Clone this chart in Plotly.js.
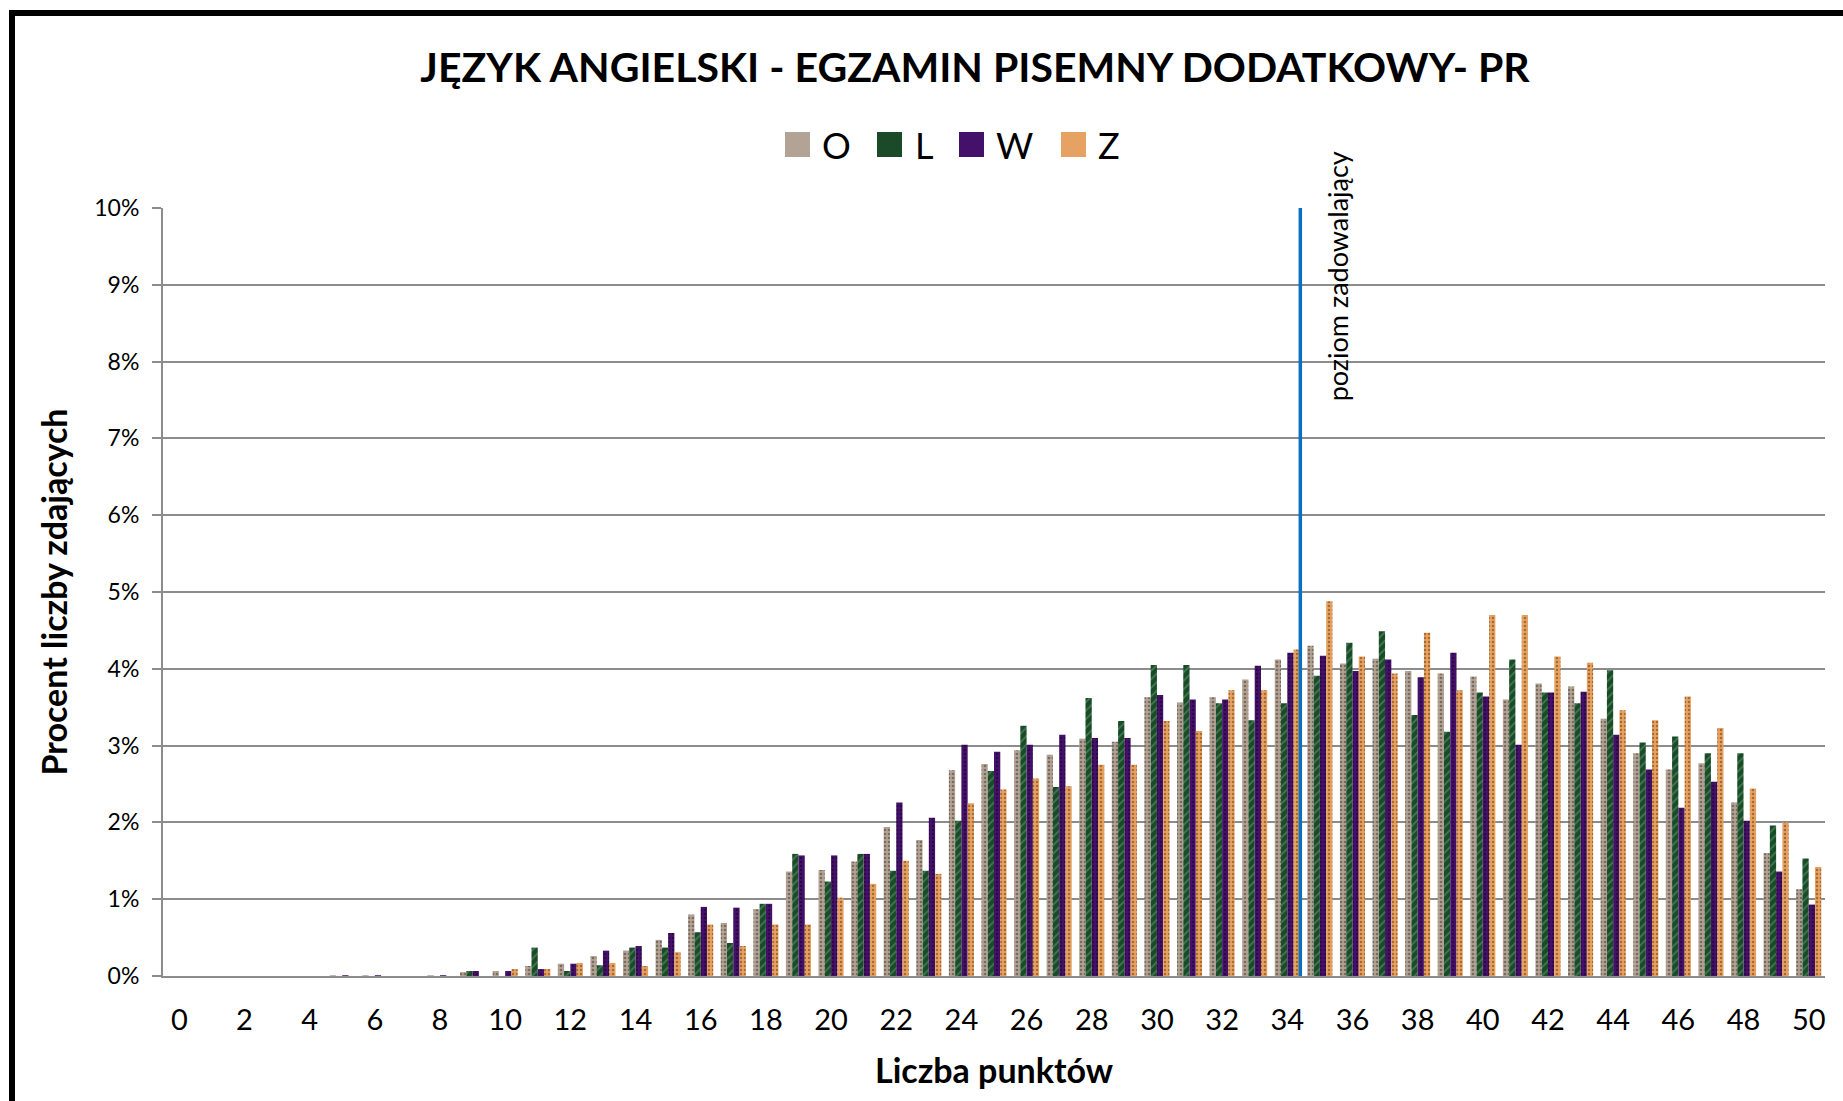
<!DOCTYPE html>
<html><head><meta charset="utf-8">
<script src="https://cdn.plot.ly/plotly-3.0.1.min.js"></script>
<style>html,body{margin:0;padding:0;background:#fff}#chart{width:1843px;height:1101px}</style>
</head><body><div id="chart"></div>
<script>
// ---------- data ----------
const categories = [0,1,2,3,4,5,6,7,8,9,10,11,12,13,14,15,16,17,18,19,20,21,22,23,24,25,26,27,28,29,30,31,32,33,34,35,36,37,38,39,40,41,42,43,44,45,46,47,48,49,50];
const seriesNames = ['O', 'L', 'W', 'Z'];
const valuesO = [0,0,0,0,0,0.01,0.01,0,0.01,0.05,0.065,0.13,0.16,0.26,0.33,0.47,0.80,0.69,0.87,1.36,1.38,1.49,1.94,1.77,2.68,2.76,2.94,2.88,3.09,3.05,3.63,3.56,3.63,3.86,4.12,4.30,4.07,4.13,3.97,3.94,3.90,3.60,3.81,3.77,3.35,2.90,2.69,2.77,2.26,1.60,1.13];
const valuesL = [0,0,0,0,0,0,0,0,0,0.065,0,0.37,0.065,0.14,0.37,0.37,0.57,0.43,0.94,1.59,1.23,1.59,1.37,1.37,2.02,2.67,3.26,2.46,3.62,3.32,4.05,4.05,3.55,3.33,3.55,3.91,4.34,4.49,3.40,3.18,3.69,4.12,3.69,3.55,3.98,3.04,3.12,2.90,2.90,1.96,1.53];
const valuesW = [0,0,0,0,0,0.01,0.01,0,0.01,0.065,0.065,0.09,0.16,0.33,0.39,0.56,0.90,0.89,0.94,1.57,1.57,1.59,2.26,2.06,3.01,2.92,3.01,3.14,3.10,3.10,3.66,3.60,3.60,4.04,4.21,4.17,3.97,4.12,3.89,4.21,3.64,3.01,3.69,3.70,3.14,2.69,2.19,2.53,2.02,1.36,0.93];
const valuesZ = [0,0,0,0,0,0,0,0,0,0,0.09,0.09,0.17,0.17,0.13,0.31,0.67,0.39,0.67,0.67,1.02,1.20,1.50,1.33,2.25,2.43,2.57,2.47,2.75,2.75,3.32,3.19,3.72,3.72,4.25,4.88,4.16,3.94,4.47,3.72,4.70,4.70,4.16,4.08,3.46,3.33,3.64,3.23,2.44,2.00,1.42];
const yTickVals = [0,1,2,3,4,5,6,7,8,9,10];
const yTickLabels = ['0%','1%','2%','3%','4%','5%','6%','7%','8%','9%','10%'];
const xLabelVals = [0,2,4,6,8,10,12,14,16,18,20,22,24,26,28,30,32,34,36,38,40,42,44,46,48,50];
const xLabelText = ['0','2','4','6','8','10','12','14','16','18','20','22','24','26','28','30','32','34','36','38','40','42','44','46','48','50'];
const thresholdX = 34.4;
const thresholdLabel = 'poziom zadowalający';
const chartTitle = 'JĘZYK ANGIELSKI - EGZAMIN PISEMNY DODATKOWY- PR';
const xTitle = 'Liczba punktów';
const yTitle = 'Procent liczby zdających';

// ---------- styling ----------
const FONT = 'Lato, "Open Sans", sans-serif';
const GRID = '#8c8c8c';
const W = 1843, H = 1101;
const M = {l: 163, r: 18, t: 208, b: 125};
const PW = W - M.l - M.r, PH = H - M.t - M.b;
const px = v => (v - M.l) / PW;           // pixel -> paper x
const py = v => (H - M.b - v) / PH;       // pixel -> paper y

const styles = [
  {color: '#b3a394', fg: '#7a6b60', shape: '.', size: 4, solidity: 0.35},
  {color: '#1a4a27', fg: '#3f7a52', shape: '/', size: 6, solidity: 0.3},
  {color: '#45106a', fg: '#2c0946', shape: '.', size: 4, solidity: 0.3},
  {color: '#e6a262', fg: '#a96a30', shape: '.', size: 4, solidity: 0.3}
];
const seriesValues = [valuesO, valuesL, valuesW, valuesZ];

const traces = seriesNames.map((name, i) => ({
  type: 'bar', name: name, x: categories, y: seriesValues[i],
  showlegend: false,
  marker: {
    color: styles[i].color,
    line: {width: 0},
    pattern: {shape: styles[i].shape, fgcolor: styles[i].fg, bgcolor: styles[i].color,
              size: styles[i].size, solidity: styles[i].solidity, fillmode: 'replace'}
  },
  hovertemplate: name + ': %{y}%<extra></extra>'
}));

// boundary ticks between categories
const boundaries = categories.map(c => c - 0.5).concat([categories[categories.length - 1] + 0.5]);
const xRange = [categories[0] - 0.5, categories[categories.length - 1] + 0.5];

// manual legend (large squares like the original)
const legendSquares = [785, 877, 959, 1061];
const legendTexts = [820, 913, 994, 1096];
const shapes = [
  {type: 'line', xref: 'x', yref: 'y', x0: thresholdX, x1: thresholdX, y0: 0, y1: 10,
   line: {color: '#0a70c0', width: 3.5}, layer: 'above'},
  {type: 'rect', xref: 'paper', yref: 'paper', x0: px(12), x1: px(1900), y0: py(13), y1: py(1200),
   line: {color: '#000', width: 6}, fillcolor: 'rgba(0,0,0,0)', layer: 'above'}
];
const annotations = [
  {text: thresholdLabel, xref: 'x', yref: 'paper', x: thresholdX, xshift: 37, y: py(276),
   textangle: -90, showarrow: false, font: {family: FONT, size: 27, color: '#000'},
   xanchor: 'center', yanchor: 'middle'}
];
seriesNames.forEach((name, i) => {
  shapes.push({type: 'rect', xref: 'paper', yref: 'paper',
    x0: px(legendSquares[i]), x1: px(legendSquares[i] + 25), y0: py(132), y1: py(157),
    fillcolor: styles[i].color, line: {width: 0}});
  annotations.push({text: name, xref: 'paper', yref: 'paper', x: px(legendTexts[i]), y: py(145),
    xanchor: 'left', yanchor: 'middle', showarrow: false,
    font: {family: FONT, size: 36, color: '#000'}});
});

const layout = {
  width: W, height: H,
  margin: M,
  paper_bgcolor: '#fff', plot_bgcolor: '#fff',
  font: {family: FONT, color: '#000'},
  title: {text: chartTitle, font: {family: FONT, size: 41, weight: 'bold', color: '#000'},
          xref: 'container', yref: 'container', x: 975 / W, y: 1 - 68 / H,
          xanchor: 'center', yanchor: 'middle'},
  barmode: 'group', bargap: 0.23, bargroupgap: 0,
  showlegend: false,
  xaxis: {type: 'linear', range: xRange, tickmode: 'array', tickvals: xLabelVals, ticktext: xLabelText,
          ticks: '', showgrid: false, zeroline: false,
          showline: true, linecolor: GRID, linewidth: 2,
          tickfont: {family: FONT, size: 29, color: '#000'}, ticklabelstandoff: 17,
          title: {text: xTitle, font: {family: FONT, size: 34, weight: 'bold', color: '#000'}, standoff: 24}},
  xaxis2: {type: 'linear', overlaying: 'x', anchor: 'y', side: 'bottom', range: xRange,
           tickmode: 'array', tickvals: boundaries, ticks: 'outside', ticklen: 10, tickwidth: 2,
           tickcolor: GRID, showticklabels: false, showgrid: false, zeroline: false, showline: false},
  yaxis: {range: [0, 10], tickmode: 'array', tickvals: yTickVals, ticktext: yTickLabels,
          ticks: 'outside', ticklen: 9, tickwidth: 2, tickcolor: GRID,
          showgrid: true, gridcolor: GRID, gridwidth: 2, zeroline: false,
          showline: true, linecolor: GRID, linewidth: 2,
          tickfont: {family: FONT, size: 23, color: '#000'}, ticklabelstandoff: 8,
          title: {text: yTitle, font: {family: FONT, size: 34, weight: 'bold', color: '#000'}, standoff: 16}},
  shapes: shapes,
  annotations: annotations
};

Plotly.newPlot('chart', traces, layout, {displayModeBar: false, staticPlot: true});
</script></body></html>
